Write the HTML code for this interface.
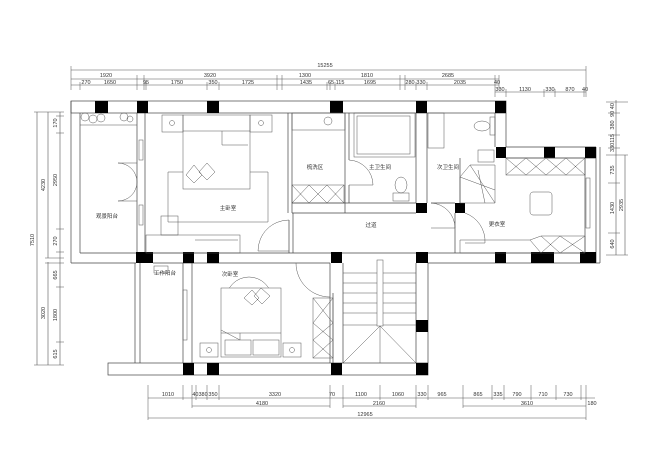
<!DOCTYPE html>
<html><head><meta charset="utf-8"><style>
html,body{margin:0;padding:0;background:#fff;width:660px;height:476px;overflow:hidden}
svg{display:block}
text{font-family:"Liberation Sans","Noto Sans CJK SC",sans-serif;fill:#333}
.d{font-size:5.5px}
.l{font-size:5.5px}
</style></head><body>
<svg width="660" height="476" viewBox="0 0 660 476" xmlns="http://www.w3.org/2000/svg">
<g stroke="#555" stroke-width="0.6" fill="none">
<!-- top dimension lines -->
<line x1="71" y1="70" x2="586" y2="70"/>
<line x1="71" y1="79" x2="499" y2="79"/>
<line x1="71" y1="85" x2="499" y2="85"/>
<line x1="495" y1="92" x2="586" y2="92"/>
<g stroke-width="0.5">
<line x1="71" y1="66" x2="71" y2="90"/><line x1="80" y1="82" x2="80" y2="90"/><line x1="137" y1="75" x2="137" y2="90"/>
<line x1="144" y1="75" x2="144" y2="90"/><line x1="146" y1="82" x2="146" y2="90"/><line x1="207" y1="82" x2="207" y2="90"/><line x1="219" y1="82" x2="219" y2="90"/><line x1="277" y1="75" x2="277" y2="90"/>
<line x1="282" y1="75" x2="282" y2="90"/><line x1="327" y1="82" x2="327" y2="90"/><line x1="330" y1="82" x2="330" y2="90"/><line x1="335" y1="82" x2="335" y2="90"/><line x1="400" y1="75" x2="400" y2="90"/>
<line x1="405" y1="75" x2="405" y2="90"/><line x1="416" y1="82" x2="416" y2="90"/><line x1="427" y1="82" x2="427" y2="90"/><line x1="495" y1="75" x2="495" y2="97"/><line x1="499" y1="75" x2="499" y2="90"/>
<line x1="586" y1="66" x2="586" y2="97"/><line x1="506" y1="89" x2="506" y2="97"/><line x1="544" y1="89" x2="544" y2="97"/><line x1="555" y1="89" x2="555" y2="97"/><line x1="584" y1="89" x2="584" y2="97"/>
</g>
<!-- left dims -->
<line x1="37" y1="112" x2="37" y2="365"/>
<line x1="48" y1="112" x2="48" y2="258"/>
<line x1="48" y1="262" x2="48" y2="365"/>
<line x1="60" y1="112" x2="60" y2="365"/>
<g stroke-width="0.5">
<line x1="34" y1="112" x2="64" y2="112"/><line x1="56" y1="116" x2="64" y2="116"/><line x1="56" y1="133" x2="64" y2="133"/><line x1="56" y1="229" x2="64" y2="229"/><line x1="56" y1="252" x2="64" y2="252"/><line x1="45" y1="258" x2="64" y2="258"/>
<line x1="45" y1="263" x2="64" y2="263"/><line x1="56" y1="287" x2="64" y2="287"/><line x1="56" y1="342" x2="64" y2="342"/><line x1="34" y1="365" x2="64" y2="365"/>
</g>
<!-- right dims -->
<line x1="616" y1="100" x2="616" y2="255"/>
<line x1="625" y1="155" x2="625" y2="255"/>
<g stroke-width="0.5">
<line x1="606" y1="102" x2="628" y2="102"/><line x1="608" y1="113" x2="620" y2="113"/><line x1="608" y1="135" x2="620" y2="135"/><line x1="608" y1="148" x2="620" y2="148"/><line x1="606" y1="155" x2="628" y2="155"/>
<line x1="608" y1="183" x2="620" y2="183"/><line x1="608" y1="233" x2="620" y2="233"/><line x1="606" y1="255" x2="628" y2="255"/>
</g>
<!-- bottom dims -->
<line x1="148" y1="398" x2="595" y2="398"/>
<line x1="192" y1="406" x2="330" y2="406"/>
<line x1="343" y1="406" x2="416" y2="406"/>
<line x1="463" y1="406" x2="586" y2="406"/>
<line x1="148" y1="418" x2="586" y2="418"/>
<g stroke-width="0.5">
<line x1="148" y1="385" x2="148" y2="420"/><line x1="183" y1="385" x2="183" y2="400"/><line x1="192" y1="385" x2="192" y2="408"/><line x1="196" y1="385" x2="196" y2="400"/><line x1="207" y1="385" x2="207" y2="400"/><line x1="219" y1="385" x2="219" y2="400"/>
<line x1="330" y1="385" x2="330" y2="408"/><line x1="343" y1="385" x2="343" y2="408"/><line x1="380" y1="385" x2="380" y2="400"/><line x1="416" y1="385" x2="416" y2="408"/><line x1="428" y1="385" x2="428" y2="400"/>
<line x1="463" y1="385" x2="463" y2="408"/><line x1="492" y1="385" x2="492" y2="400"/><line x1="504" y1="385" x2="504" y2="400"/><line x1="531" y1="385" x2="531" y2="400"/><line x1="556" y1="385" x2="556" y2="400"/>
<line x1="581" y1="385" x2="581" y2="400"/><line x1="586" y1="385" x2="586" y2="420"/>
</g>
</g>

<g class="d" text-anchor="middle">
<text x="325" y="67">15255</text>
<text x="106" y="77">1920</text><text x="210" y="77">3920</text><text x="305" y="77">1300</text><text x="367" y="77">1810</text><text x="448" y="77">2685</text>
<text x="86" y="84">270</text><text x="110" y="84">1650</text><text x="146" y="84">95</text><text x="177" y="84">1750</text><text x="213" y="84">350</text><text x="248" y="84">1725</text>
<text x="306" y="84">1435</text><text x="331" y="84">65</text><text x="340" y="84">115</text><text x="370" y="84">1695</text><text x="410" y="84">280</text><text x="421" y="84">330</text><text x="460" y="84">2035</text><text x="497" y="84">40</text>
<text x="500" y="91">330</text><text x="525" y="91">1130</text><text x="550" y="91">330</text><text x="570" y="91">870</text><text x="585" y="91">40</text>
<text x="168" y="396">1010</text><text x="200" y="396">40380</text><text x="213" y="396">350</text><text x="275" y="396">3320</text><text x="332" y="396">70</text>
<text x="361" y="396">1100</text><text x="398" y="396">1060</text><text x="422" y="396">330</text><text x="442" y="396">965</text>
<text x="478" y="396">865</text><text x="498" y="396">335</text><text x="517" y="396">790</text><text x="543" y="396">710</text><text x="568" y="396">730</text><text x="592" y="405">180</text>
<text x="262" y="405">4180</text><text x="379" y="405">2160</text><text x="527" y="405">3610</text><text x="365" y="416">12965</text>
</g>
<g class="d" text-anchor="middle">
<text transform="translate(34,240) rotate(-90)">7510</text>
<text transform="translate(45,185) rotate(-90)">4230</text>
<text transform="translate(45,313) rotate(-90)">3020</text>
<text transform="translate(57,123) rotate(-90)">170</text>
<text transform="translate(57,180) rotate(-90)">2950</text>
<text transform="translate(57,241) rotate(-90)">270</text>
<text transform="translate(57,275) rotate(-90)">665</text>
<text transform="translate(57,315) rotate(-90)">1800</text>
<text transform="translate(57,354) rotate(-90)">615</text>
<text transform="translate(614,110) rotate(-90)">90 40</text>
<text transform="translate(614,125) rotate(-90)">380</text>
<text transform="translate(614,143) rotate(-90)">330115</text>
<text transform="translate(614,170) rotate(-90)">735</text>
<text transform="translate(614,208) rotate(-90)">1430</text>
<text transform="translate(614,244) rotate(-90)">640</text>
<text transform="translate(623,205) rotate(-90)">2935</text>
</g>

<!-- walls -->
<g stroke="#444" stroke-width="0.7" fill="none">
<rect x="71" y="101" width="435" height="12"/>
<line x1="71" y1="101" x2="71" y2="263"/><line x1="80" y1="113" x2="80" y2="253"/>
<line x1="71" y1="263" x2="136" y2="263"/><line x1="80" y1="253" x2="136" y2="253"/>
<line x1="137" y1="113" x2="137" y2="253"/><line x1="145" y1="113" x2="145" y2="253"/>
<line x1="153" y1="253" x2="596" y2="253"/><line x1="153" y1="263" x2="330" y2="263"/><line x1="428" y1="263" x2="600" y2="263"/>
<line x1="506" y1="147" x2="596" y2="147"/><line x1="506" y1="158" x2="596" y2="158"/>
<line x1="596" y1="147" x2="596" y2="263"/><line x1="600" y1="147" x2="600" y2="263"/><line x1="585" y1="158" x2="585" y2="253"/>
<line x1="495" y1="113" x2="495" y2="147"/><line x1="506" y1="113" x2="506" y2="147"/>
<line x1="288" y1="113" x2="288" y2="213"/><line x1="292" y1="113" x2="292" y2="213"/>
<line x1="345" y1="113" x2="345" y2="213"/><line x1="349" y1="113" x2="349" y2="160"/><line x1="349" y1="185" x2="349" y2="203"/>
<line x1="416" y1="113" x2="416" y2="203"/><line x1="427" y1="113" x2="427" y2="203"/>
<line x1="292" y1="203" x2="416" y2="203"/><line x1="292" y1="213" x2="416" y2="213"/>
<line x1="431" y1="203" x2="455" y2="203"/>
<line x1="460" y1="158" x2="460" y2="203"/><line x1="455" y1="213" x2="455" y2="253"/>
<line x1="293" y1="213" x2="293" y2="253"/><line x1="289" y1="220" x2="289" y2="253"/>
<!-- lower -->
<rect x="108" y="363" width="320" height="12"/>
<line x1="135" y1="263" x2="135" y2="363"/><line x1="140" y1="263" x2="140" y2="363"/>
<line x1="183" y1="263" x2="183" y2="363"/><line x1="192" y1="263" x2="192" y2="363"/>
<line x1="330" y1="263" x2="330" y2="363"/><line x1="333" y1="293" x2="333" y2="363"/>
<line x1="416" y1="263" x2="416" y2="363"/><line x1="428" y1="263" x2="428" y2="363"/>
<line x1="343" y1="263" x2="343" y2="363"/>
</g>

<!-- columns -->
<g fill="#000">
<rect x="95" y="101" width="13" height="12"/><rect x="137" y="101" width="11" height="12"/><rect x="207" y="101" width="12" height="12"/>
<rect x="330" y="101" width="13" height="12"/><rect x="416" y="101" width="11" height="12"/><rect x="495" y="101" width="11" height="12"/>
<rect x="496" y="147" width="10" height="11"/><rect x="544" y="147" width="11" height="11"/><rect x="585" y="147" width="11" height="11"/>
<rect x="416" y="203" width="11" height="10"/><rect x="455" y="203" width="10" height="10"/>
<rect x="136" y="252" width="17" height="11"/><rect x="183" y="252" width="11" height="11"/><rect x="207" y="252" width="12" height="11"/>
<rect x="331" y="252" width="11" height="11"/><rect x="416" y="252" width="12" height="11"/><rect x="495" y="252" width="11" height="11"/>
<rect x="531" y="252" width="23" height="11"/><rect x="580" y="252" width="16" height="11"/>
<rect x="416" y="320" width="12" height="12"/>
<rect x="183" y="363" width="11" height="12"/><rect x="207" y="363" width="12" height="12"/><rect x="331" y="363" width="11" height="12"/><rect x="416" y="363" width="12" height="12"/>
</g>

<!-- furniture -->
<g stroke="#555" stroke-width="0.5" fill="none">
<!-- plants -->
<circle cx="85" cy="117" r="4"/><circle cx="93" cy="119" r="4"/><circle cx="101" cy="118" r="4"/><circle cx="124" cy="117" r="4"/><circle cx="130" cy="119" r="3"/>
<line x1="80" y1="125" x2="137" y2="125"/>
<!-- balcony doors -->
<path d="M137 163 L118 163 A19 19 0 0 1 137 182"/><path d="M137 201 L118 201 A19 19 0 0 0 137 182"/>
<rect x="139" y="140" width="4" height="20"/><rect x="139" y="205" width="4" height="20"/>
<!-- master bed -->
<rect x="162" y="115" width="21" height="17"/><rect x="250" y="115" width="22" height="17"/>
<circle cx="172" cy="123" r="2.5"/><circle cx="261" cy="123" r="2.5"/>
<rect x="183" y="115" width="67" height="74"/>
<line x1="183" y1="131" x2="250" y2="131"/><path d="M222 131 L222 145 L248 145"/>
<path d="M186 175 L194 165 L202 175 L194 183 Z M199 172 L207 163 L215 172 L207 180 Z"/>
<path d="M183 172 L168 172 L168 222 L268 222 L268 172 L250 172"/>
<rect x="161" y="216" width="17" height="19"/><rect x="146" y="235" width="94" height="18"/>
<line x1="195" y1="240" x2="238" y2="240"/>
<path d="M289 220 A31 31 0 0 0 258 251 L289 251"/>
<!-- 梳洗区 -->
<rect x="292" y="113" width="53" height="17"/><circle cx="328" cy="121" r="4"/>
<rect x="292" y="185" width="52" height="18"/>
<path d="M292 185 L309 203 M309 185 L292 203 M309 185 L327 203 M327 185 L309 203 M327 185 L344 203 M344 185 L327 203"/>
<!-- 主卫 -->
<rect x="354" y="113" width="61" height="44"/><rect x="357" y="116" width="53" height="38"/>
<path d="M349 160 A25 25 0 0 1 373 185 L349 185"/>
<ellipse cx="401" cy="185" rx="6" ry="8"/><rect x="393" y="193" width="16" height="8"/>
<!-- 次卫 -->
<rect x="428" y="113" width="16" height="35"/><ellipse cx="482" cy="126" rx="8" ry="5"/><rect x="490" y="117" width="5" height="18"/>
<rect x="478" y="150" width="16" height="12"/>
<path d="M495 165 L470 165 L460 177 L460 203 L495 203 Z M470 165 L495 203 M460 177 L495 190 M478 170 L485 203"/>
<path d="M431 203 A25 25 0 0 1 455 228 L431 228"/>
<path d="M465 213 A30 30 0 0 1 485 243 L465 243"/>
<!-- 更衣室 -->
<rect x="506" y="158" width="79" height="17"/>
<path d="M506 158 L526 175 M526 158 L506 175 M526 158 L546 175 M546 158 L526 175 M546 158 L566 175 M566 158 L546 175 M566 158 L585 175 M585 158 L566 175"/>
<rect x="530" y="192" width="22" height="23" rx="3"/>
<rect x="586" y="178" width="4" height="50"/>
<path d="M460 240 L530 240 L541 236 L585 236 L585 253 L460 253 Z M530 240 L541 253 M541 236 L560 253 M560 236 L541 253 M560 236 L585 253 M585 236 L560 253"/>
<!-- 工作阳台 -->
<rect x="154" y="266" width="14" height="7"/>
<rect x="183" y="290" width="4" height="50"/>
<!-- 次卧 -->
<circle cx="249" cy="300" r="23"/>
<rect x="221" y="288" width="60" height="69" fill="#fff"/>
<path d="M244 298 L252 290 L259 298 L252 305 Z M254 296 L261 288 L270 296 L262 304 Z"/>
<line x1="221" y1="333" x2="281" y2="333"/><path d="M221 330 L240 340 L240 333"/>
<rect x="225" y="340" width="26" height="15"/><rect x="253" y="340" width="26" height="15"/>
<rect x="200" y="343" width="18" height="14"/><rect x="283" y="343" width="18" height="14"/>
<circle cx="209" cy="350" r="2.5"/><circle cx="292" cy="350" r="2.5"/>
<rect x="313" y="298" width="20" height="60"/>
<path d="M313 323 L333 298 M313 298 L333 323 M313 323 L333 340 M333 323 L313 340 M313 340 L333 358 M333 340 L313 358"/>
<path d="M296 263 A34 34 0 0 0 330 297"/>
<!-- stairs -->
<path d="M343 273 H377 M343 283 H377 M343 293 H377 M343 303 H377 M343 313 H377 M343 325 H377"/>
<path d="M383 273 H416 M383 283 H416 M383 293 H416 M383 303 H416 M383 313 H416 M383 325 H416"/>
<rect x="377" y="260" width="6" height="66"/>
<path d="M343 363 L380 326 L416 363 M380 326 L380 363"/>
</g>

<g class="l" text-anchor="middle">
<text x="107" y="218">观景阳台</text>
<text x="228" y="210">主卧室</text>
<text x="315" y="169">梳洗区</text>
<text x="380" y="169">主卫生间</text>
<text x="448" y="169">次卫生间</text>
<text x="371" y="227">过道</text>
<text x="497" y="226">更衣室</text>
<text x="165" y="275">工作阳台</text>
<text x="230" y="276">次卧室</text>
</g>
</svg>
</body></html>
